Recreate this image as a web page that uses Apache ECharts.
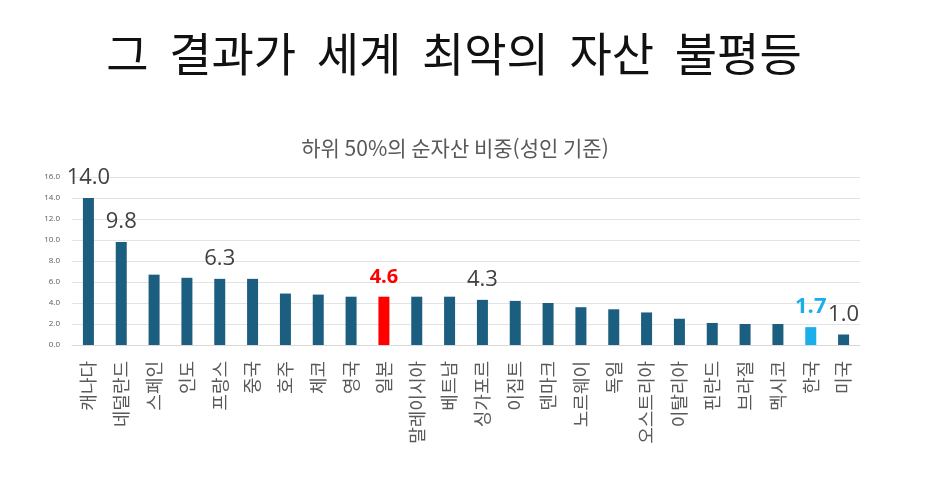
<!DOCTYPE html>
<html lang="ko">
<head>
    <meta charset="UTF-8">
    <title>그 결과가 세계 최악의 자산 불평등</title>
    <script src="https://cdn.jsdelivr.net/npm/echarts@6/dist/echarts.min.js"></script>
    <style>
        html, body { margin: 0; padding: 0; background: #fff; }
        #main { width: 927px; height: 501px; }
    </style>
</head>
<body>
<div id="main"></div>
<script>
    // 하위 50%의 순자산 비중 (성인 기준), 단위 %
    var countries = ['캐나다', '네덜란드', '스페인', '인도', '프랑스', '중국', '호주', '체코', '영국', '일본',
        '말레이시아', '베트남', '싱가포르', '이집트', '덴마크', '노르웨이', '독일', '오스트리아', '이탈리아',
        '핀란드', '브라질', '멕시코', '한국', '미국'];
    var shares = [14.0, 9.8, 6.7, 6.4, 6.3, 6.3, 4.9, 4.8, 4.6, 4.6,
        4.6, 4.6, 4.3, 4.2, 4.0, 3.6, 3.4, 3.1, 2.5,
        2.1, 2.0, 2.0, 1.7, 1.0];
    // 값이 표시된 나라
    var labeled = ['캐나다', '네덜란드', '프랑스', '일본', '싱가포르', '한국', '미국'];
    var yTicks = [0, 2, 4, 6, 8, 10, 12, 14, 16];

    var baseColor = '#1b5e80';
    var special = {
        '일본': { color: '#ff0000', size: 20 },
        '한국': { color: '#1aaeea', size: 22 }
    };

    var myChart = echarts.init(document.getElementById('main'));

    var barData = countries.map(function (name, i) {
        var sp = special[name];
        var item = {
            value: shares[i],
            itemStyle: { color: sp ? sp.color : baseColor }
        };
        if (labeled.indexOf(name) >= 0) {
            item.label = {
                show: true,
                position: 'top',
                distance: 9,
                formatter: function (p) { return p.value.toFixed(1); },
                fontFamily: 'Open Sans',
                fontSize: sp ? sp.size : 22,
                fontWeight: sp ? 'bold' : 'normal',
                color: sp ? sp.color : '#404040'
            };
        }
        return item;
    });

    var option = {
        animation: false,
        backgroundColor: '#fff',
        title: [{
            // 원본 제목은 단어 사이가 넓어서 공백을 두 칸씩 둠
            text: '그  결과가  세계  최악의  자산  불평등',
            left: 449,
            top: 26,
            textAlign: 'center',
            textStyle: {
                fontFamily: 'Noto Sans CJK KR',
                fontSize: 46,
                fontWeight: 'normal',
                color: '#111'
            }
        }, {
            text: '하위 50%의 순자산 비중(성인 기준)',
            left: 450,
            top: 133,
            textAlign: 'center',
            textStyle: {
                fontFamily: 'Noto Sans CJK KR',
                fontSize: 21,
                fontWeight: 'normal',
                color: '#595959'
            }
        }],
        grid: {
            left: 72,
            right: 67,
            top: 177,
            bottom: 156
        },
        xAxis: {
            type: 'category',
            data: countries,
            axisLine: { lineStyle: { color: '#d9d9d9' } },
            axisTick: { show: false },
            axisLabel: {
                interval: 0,
                rotate: 90,
                margin: 16,
                fontFamily: 'Noto Sans CJK KR',
                fontSize: 18,
                color: '#595959'
            }
        },
        yAxis: {
            type: 'value',
            min: yTicks[0],
            max: yTicks[yTicks.length - 1],
            interval: 2,
            axisLine: { show: false },
            axisTick: { show: false },
            splitLine: { lineStyle: { color: '#e3e3e3' } },
            axisLabel: {
                margin: 12,
                fontFamily: 'Open Sans',
                fontSize: 8,
                color: '#595959',
                formatter: function (v) { return v.toFixed(1); }
            }
        },
        series: [{
            type: 'bar',
            data: barData,
            barWidth: 11
        }]
    };

    myChart.setOption(option);
</script>
</body>
</html>
